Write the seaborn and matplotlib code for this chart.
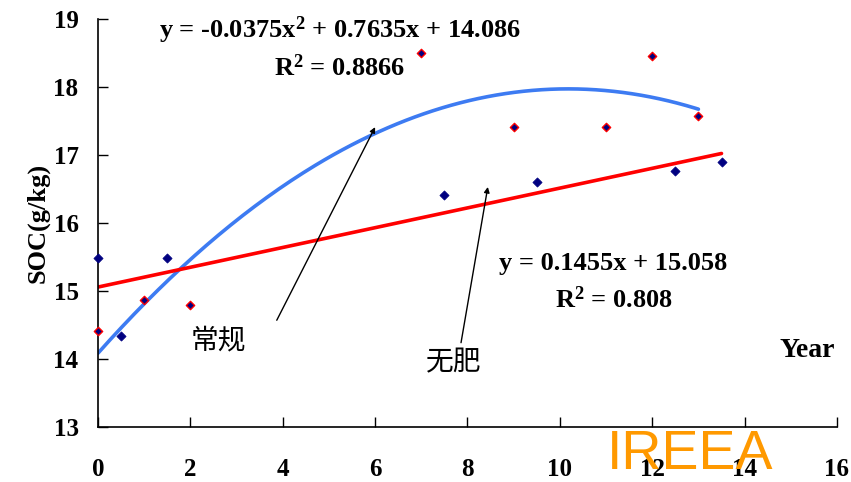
import numpy as np
import pandas as pd
import matplotlib
matplotlib.use("Agg")
import matplotlib.pyplot as plt
import seaborn as sns

# Data
conv_year = [0, 1, 2, 7, 9, 11, 12, 13]
conv_soc = [14.41, 14.87, 14.79, 18.50, 17.41, 17.41, 18.46, 17.57]
nofert_year = [0, 0.5, 1.5, 7.5, 9.5, 12.5, 13.5]
nofert_soc = [15.49, 14.34, 15.49, 16.41, 16.60, 16.76, 16.90]
quad_coef = [-0.0375, 0.7635, 14.086]
lin_coef = [0.1455, 15.058]
x_ticks = [0, 2, 4, 6, 8, 10, 12, 14, 16]
y_ticks = [13, 14, 15, 16, 17, 18, 19]

sns.set_theme(style="white")
plt.rcParams['font.family'] = ['Liberation Serif', 'Noto Sans CJK SC', 'DejaVu Sans']
plt.rcParams['mathtext.fontset'] = 'custom'
plt.rcParams['mathtext.rm'] = 'Liberation Serif:bold'
plt.rcParams['mathtext.bf'] = 'Liberation Serif:bold'
plt.rcParams['mathtext.it'] = 'Liberation Serif:bold'
for k in ['text.color', 'axes.labelcolor', 'xtick.color', 'ytick.color']:
    plt.rcParams[k] = 'black'

fig = plt.figure(figsize=(8.51, 4.82), dpi=100)
ax = fig.add_axes([0.1152, 0.1141, 0.8683, 0.8465])

xq = np.linspace(0, 13, 200)
df_q = pd.DataFrame({"x": xq, "y": np.polyval(quad_coef, xq)})
xl = np.linspace(0, 13.5, 50)
df_l = pd.DataFrame({"x": xl, "y": np.polyval(lin_coef, xl)})

sns.lineplot(data=df_q, x="x", y="y", ax=ax, color="#3D7BF2", linewidth=2.6)
sns.lineplot(data=df_l, x="x", y="y", ax=ax, color="#FF0000", linewidth=2.6)

sns.scatterplot(x=nofert_year, y=nofert_soc, ax=ax, marker="D", s=22,
                color="#000080", edgecolor="#000080", linewidth=0.5, zorder=5, clip_on=False)
sns.scatterplot(x=conv_year, y=conv_soc, ax=ax, marker="D", s=18,
                color="#000080", edgecolor="#FF0000", linewidth=1.0, zorder=6, clip_on=False)

ax.set_xlim(0, 16)
ax.set_ylim(13, 19)
ax.set_xticks(x_ticks)
ax.set_yticks(y_ticks)
ax.set_xticklabels([str(t) for t in x_ticks], fontsize=18, fontweight="bold")
ax.set_yticklabels([str(t) for t in y_ticks], fontsize=18, fontweight="bold")
ax.tick_params(axis="both", direction="in", length=7, width=1, color="black",
               labelcolor="black", left=True, bottom=True)
ax.tick_params(axis="x", pad=22)
ax.tick_params(axis="y", pad=14)
for s in ["top", "right"]:
    ax.spines[s].set_visible(False)
for s in ["left", "bottom"]:
    ax.spines[s].set_color("black")
    ax.spines[s].set_linewidth(1.2)
ax.set_xlabel("")
ax.set_ylabel("SOC(g/kg)", fontsize=19, fontweight="bold", labelpad=3, color="black")

# Equations
ax.text(5.23, 18.84, "y = -0.0375x$^{2}$ + 0.7635x + 14.086", ha="center", va="center",
        fontsize=19, fontweight="bold")
ax.text(5.23, 18.28, "R$^{2}$ = 0.8866", ha="center", va="center",
        fontsize=19, fontweight="bold")
ax.text(11.15, 15.41, "y = 0.1455x + 15.058", ha="center", va="center",
        fontsize=19, fontweight="bold")
ax.text(11.17, 14.87, "R$^{2}$ = 0.808", ha="center", va="center",
        fontsize=19, fontweight="bold")

# Annotations
arrow = dict(arrowstyle="-|>", color="black", lw=1, mutation_scale=8, shrinkA=0, shrinkB=0)
ax.annotate("", xy=(6.0, 17.41), xytext=(3.87, 14.57), arrowprops=arrow)
ax.text(2.6, 14.27, "常规", fontsize=20, family=['Noto Sans CJK SC'],
        ha="center", va="center")
ax.annotate("", xy=(8.44, 16.53), xytext=(7.86, 14.24), arrowprops=arrow)
ax.text(7.7, 13.95, "无肥", fontsize=20, family=['Noto Sans CJK SC'],
        ha="center", va="center")
ax.text(15.35, 14.12, "Year", ha="center", va="center", fontsize=20, fontweight="bold")

fig.text(0.811, 0.055, "IREEA", ha="center", va="center", fontsize=40,
         color="#FF9900", family="Liberation Sans", zorder=10)

fig.savefig("out.png", dpi=100)
